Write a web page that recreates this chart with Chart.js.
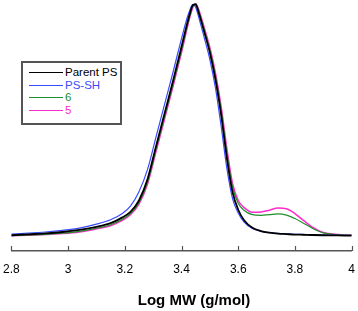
<!DOCTYPE html>
<html>
<head>
<meta charset="utf-8">
<script src="https://cdn.jsdelivr.net/npm/chart.js@4.4.0/dist/chart.umd.min.js"></script>
<style>
  html, body { margin: 0; padding: 0; background: #fff; }
  #wrap { position: relative; width: 358px; height: 311px; }
  #legend {
    position: absolute; left: 21px; top: 61px; width: 97px; height: 57px;
    border: 2px solid #555; background: #fff;
    font-family: "Liberation Sans", Arial, sans-serif; font-size: 11.5px;
    padding-top: 3px; box-sizing: content-box;
  }
  #legend .row { height: 12.6px; line-height: 12.6px; position: relative; white-space: nowrap; }
  #legend .sw { position: absolute; left: 6px; top: 6px; width: 34px; height: 0; }
  #legend .lb { position: absolute; left: 42px; top: 0; }
  #xtitle {
    position: absolute; left: 94px; width: 200px; top: 291px; text-align: center;
    font-family: "Liberation Sans", Arial, sans-serif; font-size: 15px; font-weight: bold;
    line-height: 18px; color: #000;
  }
</style>
</head>
<body>
<div id="wrap">
  <canvas id="myChart" width="358" height="311"></canvas>
  <div id="legend"></div>
  <div id="xtitle">Log MW (g/mol)</div>
</div>
<script>
// datos (altura normalizada)
const logMW = [2.80, 2.86, 2.92, 2.98, 3.04, 3.10, 3.15, 3.19, 3.22, 3.25, 3.28, 3.31, 3.34, 3.37, 3.40, 3.42, 3.43, 3.44, 3.45,
  3.46, 3.48, 3.50, 3.52, 3.54, 3.56, 3.58, 3.60, 3.62, 3.65, 3.68, 3.71, 3.74, 3.77, 3.80, 3.83, 3.86, 3.90, 3.95, 4.00];

const parentPS = [0.002, 0.006, 0.010, 0.016, 0.025, 0.038, 0.054, 0.078, 0.103, 0.152, 0.243, 0.385, 0.526, 0.667, 0.815, 0.915, 0.960, 0.995, 0.998,
  0.965, 0.880, 0.790, 0.672, 0.520, 0.335, 0.188, 0.112, 0.068, 0.034, 0.020, 0.013, 0.009, 0.007, 0.005, 0.004, 0.003, 0.002, 0.001, 0.000];

const psSH = [0.007, 0.011, 0.016, 0.023, 0.033, 0.050, 0.069, 0.095, 0.128, 0.190, 0.285, 0.425, 0.565, 0.705, 0.850, 0.940, 0.975, 0.997, 0.985,
  0.945, 0.855, 0.760, 0.635, 0.470, 0.290, 0.160, 0.098, 0.060, 0.031, 0.019, 0.013, 0.010, 0.008, 0.006, 0.005, 0.004, 0.003, 0.002, 0.001];

const sample6 = [0.000, 0.003, 0.006, 0.011, 0.019, 0.032, 0.047, 0.070, 0.095, 0.142, 0.230, 0.372, 0.512, 0.653, 0.800, 0.905, 0.952, 0.992, 1.000,
  0.972, 0.890, 0.802, 0.688, 0.540, 0.358, 0.210, 0.140, 0.110, 0.091, 0.088, 0.091, 0.094, 0.089, 0.074, 0.054, 0.033, 0.012, 0.004, 0.002];

const sample5 = [0.000, 0.002, 0.005, 0.009, 0.016, 0.029, 0.043, 0.065, 0.090, 0.136, 0.222, 0.362, 0.502, 0.643, 0.790, 0.895, 0.945, 0.985, 1.000,
  0.978, 0.898, 0.812, 0.700, 0.556, 0.376, 0.225, 0.152, 0.122, 0.101, 0.102, 0.110, 0.119, 0.116, 0.095, 0.066, 0.038, 0.014, 0.005, 0.003];

const xTicks = [2.8, 3, 3.2, 3.4, 3.6, 3.8, 4];

const names = ['Parent PS', 'PS-SH', '6', '5'];
const colors = ['#000000', '#3b4bff', '#1f8f2a', '#ff2ccc'];
const widths = [1.8, 1.2, 1.2, 1.5];
const series = [parentPS, psSH, sample6, sample5];

const font = "'Liberation Sans', Arial, sans-serif";

// ticks hacia arriba
const upTicks = {
  id: 'upTicks',
  afterDraw(chart) {
    const sc = chart.scales.x;
    const c = chart.ctx;
    c.save();
    c.strokeStyle = '#555';
    c.lineWidth = 1.2;
    sc.ticks.forEach(t => {
      const x = Math.round(sc.getPixelForValue(t.value)) + 0.5;
      c.beginPath();
      c.moveTo(x, sc.top);
      c.lineTo(x, sc.top - 5);
      c.stroke();
    });
    c.restore();
  }
};

const ctx = document.getElementById('myChart');
const chart = new Chart(ctx, {
  type: 'line',
  data: {
    datasets: series.map((s, i) => ({
      label: names[i],
      data: logMW.map((x, j) => ({ x: x, y: s[j] })),
      borderColor: colors[i],
      borderWidth: widths[i],
      pointRadius: 0,
      cubicInterpolationMode: 'monotone',
      fill: false
    }))
  },
  options: {
    responsive: false,
    animation: false,
    layout: { padding: { left: 11, right: 5, top: 2, bottom: 31.6 } },
    plugins: { legend: { display: false }, tooltip: { enabled: false } },
    scales: {
      x: {
        type: 'linear',
        min: 2.8,
        max: 4,
        afterBuildTicks: (axis) => { axis.ticks = xTicks.map(v => ({ value: v })); },
        grid: { display: false },
        border: { display: true, color: '#555', width: 1.5 },
        ticks: {
          color: '#000',
          padding: 3,
          maxRotation: 0,
          font: { family: font, size: 12 },
          callback: v => String(+Number(v).toFixed(1))
        },
        title: { display: false }
      },
      y: {
        display: false,
        min: -0.066,
        max: 1.008
      }
    }
  },
  plugins: [upTicks]
});

// leyenda html
const legend = document.getElementById('legend');
chart.data.datasets.forEach(ds => {
  const row = document.createElement('div');
  row.className = 'row';
  row.innerHTML = '<span class="sw" style="border-top:1.5px solid ' + ds.borderColor + '"></span>' +
    '<span class="lb" style="color:' + ds.borderColor + '">' + ds.label + '</span>';
  legend.appendChild(row);
});
</script>
</body>
</html>
